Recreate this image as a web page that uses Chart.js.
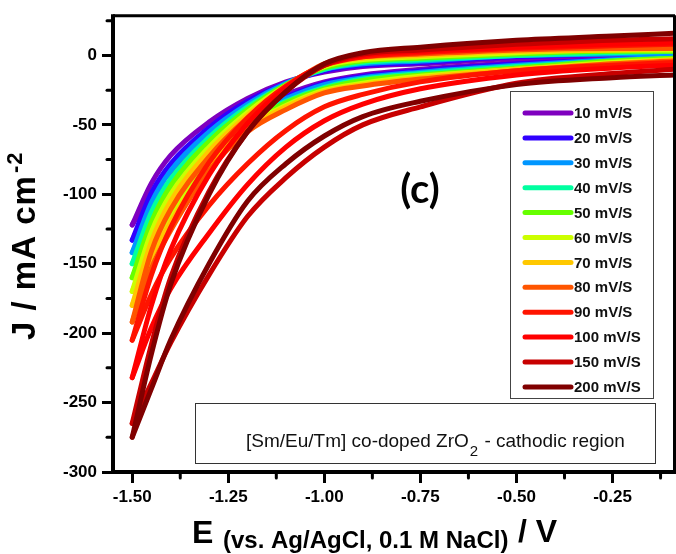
<!DOCTYPE html>
<html>
<head>
<meta charset="utf-8">
<script src="https://cdn.jsdelivr.net/npm/chart.js@4"></script>
<style>
  html, body { margin: 0; padding: 0; background: #fff; }
  #wrap { width: 676px; height: 554px; position: relative; }
</style>
</head>
<body>
<div id="wrap"><canvas id="cv"></canvas></div>
<script>
// potential grid (V), from the -1.5 V vertex to the start of the scan
const potentials = [-1.5, -1.45, -1.4, -1.3, -1.2, -1.1, -1.0, -0.9, -0.75, -0.5, -0.25, -0.09];

const rates = ["10 mV/S", "20 mV/S", "30 mV/S", "40 mV/S", "50 mV/S", "60 mV/S",
               "70 mV/S", "80 mV/S", "90 mV/S", "100 mV/S", "150 mV/S", "200 mV/S"];
const colors = ["#7f00bf", "#3000ff", "#0096ff", "#00ffa0", "#66ff00", "#ccff00",
                "#ffc800", "#ff5500", "#ff1400", "#ff0000", "#c80000", "#800000"];

// current density (mA cm-2) on the forward (cathodic) sweep, per potential above
const fwd10  = [-122, -100, -84, -58, -40, -28, -19, -14, -10, -5, -2, 0];
const fwd20  = [-133, -108, -90, -62, -42, -30, -20, -15, -11, -6, -3, -1];
const fwd30  = [-142, -115, -96, -65, -44, -31, -21, -16, -12, -7, -3, -1];
const fwd40  = [-150, -123, -102, -69, -47, -33, -23, -17, -13, -8, -4, -2];
const fwd50  = [-160, -130, -108, -72, -49, -34, -24, -18, -14, -9, -4, -2];
const fwd60  = [-170, -138, -114, -76, -51, -36, -25, -20, -15, -10, -5, -3];
const fwd70  = [-180, -145, -120, -79, -53, -37, -26, -21, -16, -10, -6, -3];
const fwd80  = [-192, -153, -126, -83, -55, -39, -27, -22, -17, -11, -6, -4];
const fwd90  = [-205, -172, -146, -108, -78, -54, -37, -28, -19, -11, -7, -5];
const fwd100 = [-232, -196, -168, -128, -93, -66, -47, -35, -24, -14, -9, -7];
const fwd150 = [-265, -236, -207, -158, -116, -88, -66, -50, -37, -20, -13, -10];
const fwd200 = [-275, -240, -205, -150, -105, -78, -58, -44, -33, -21, -16, -14];

// current density on the reverse sweep, same potentials
const rev10  = [-122, -92, -72, -48, -31, -19, -12, -8, -6, -2, 0, 1];
const rev20  = [-133, -99, -78, -52, -33, -20, -11, -7, -5, -1, 1, 2];
const rev30  = [-142, -106, -83, -55, -35, -20, -10, -6, -4, 0, 1, 2];
const rev40  = [-150, -113, -89, -59, -37, -21, -10, -5, -3, 0, 2, 3];
const rev50  = [-160, -120, -94, -62, -39, -21, -9, -4, -2, 1, 3, 3];
const rev60  = [-170, -127, -100, -66, -41, -22, -8, -3, -1, 2, 4, 4];
const rev70  = [-180, -134, -105, -69, -43, -22, -7, -2, 0, 3, 4, 5];
const rev80  = [-192, -141, -111, -73, -45, -23, -6, -1, 1, 4, 5, 5];
const rev90  = [-205, -158, -124, -77, -45, -22, -7, -1, 2, 5, 7, 8];
const rev100 = [-232, -180, -140, -86, -49, -23, -7, 0, 3, 6, 8, 9];
const rev150 = [-265, -208, -160, -98, -55, -26, -7, 1, 4, 8, 11, 12];
const rev200 = [-275, -215, -165, -100, -55, -26, -6, 2, 6, 11, 14, 16];

const xTicks = [-1.5, -1.25, -1.0, -0.75, -0.5, -0.25];
const yTicks = [-300, -250, -200, -150, -100, -50, 0];

const fwdAll = [fwd10, fwd20, fwd30, fwd40, fwd50, fwd60, fwd70, fwd80, fwd90, fwd100, fwd150, fwd200];
const revAll = [rev10, rev20, rev30, rev40, rev50, rev60, rev70, rev80, rev90, rev100, rev150, rev200];

const toPoints = vals => vals.map((y, k) => ({ x: potentials[k], y }));

const FONT = '"Liberation Sans", Arial, sans-serif';

const datasets = [];
rates.forEach((label, i) => {
  [fwdAll[i], revAll[i]].forEach(branch => {
    datasets.push({
      label,
      data: toPoints(branch),
      borderColor: colors[i],
      backgroundColor: colors[i],
      borderWidth: 5,
      pointRadius: 0,
      pointHoverRadius: 0,
      showLine: true,
      cubicInterpolationMode: "monotone",
      borderJoinStyle: "round",
      borderCapStyle: "round",
      order: rates.length - i
    });
  });
});

const decor = {
  id: "decor",
  afterDraw(chart) {
    const ctx = chart.ctx;
    const a = chart.chartArea;
    const xs = chart.scales.x, ys = chart.scales.y;
    ctx.save();

    // minor ticks
    ctx.strokeStyle = "#000";
    ctx.lineWidth = 3;
    ctx.lineCap = "round";
    xTicks.forEach(t => {
      const v = t + 0.125;
      if (v <= xs.max) {
        const px = xs.getPixelForValue(v);
        ctx.beginPath(); ctx.moveTo(px, a.bottom); ctx.lineTo(px, a.bottom + 6); ctx.stroke();
      }
    });
    yTicks.forEach(t => {
      const v = t + 25;
      if (v <= ys.max) {
        const py = ys.getPixelForValue(v);
        ctx.beginPath(); ctx.moveTo(a.left, py); ctx.lineTo(a.left - 6, py); ctx.stroke();
      }
    });

    // frame
    ctx.lineCap = "butt";
    ctx.lineWidth = 3;
    ctx.beginPath();
    ctx.moveTo(a.left, a.top + 0.5); ctx.lineTo(a.right + 1, a.top + 0.5);
    ctx.moveTo(a.right + 0.5, a.top); ctx.lineTo(a.right + 0.5, a.bottom);
    ctx.stroke();
    ctx.lineWidth = 4;
    ctx.beginPath();
    ctx.moveTo(a.left, a.top - 1); ctx.lineTo(a.left, a.bottom + 2);
    ctx.moveTo(a.left - 2, a.bottom); ctx.lineTo(a.right + 2, a.bottom);
    ctx.stroke();

    // legend
    ctx.lineWidth = 1;
    ctx.strokeStyle = "#444";
    ctx.strokeRect(510.5, 91.5, 143, 307);
    ctx.font = "bold 15px " + FONT;
    ctx.textBaseline = "middle";
    ctx.textAlign = "left";
    rates.forEach((r, i) => {
      const y = 113 + i * 24.9;
      ctx.strokeStyle = colors[i];
      ctx.lineWidth = 5;
      ctx.lineCap = "round";
      ctx.beginPath(); ctx.moveTo(525, y); ctx.lineTo(571, y); ctx.stroke();
      ctx.fillStyle = "#111";
      ctx.fillText(r, 574, y + 1);
    });

    // sample box
    ctx.lineWidth = 1;
    ctx.strokeStyle = "#333";
    ctx.strokeRect(195.5, 403.5, 460, 60);
    ctx.fillStyle = "#111";
    ctx.textBaseline = "alphabetic";
    ctx.font = "19px " + FONT;
    const s1 = "[Sm/Eu/Tm] co-doped ZrO";
    ctx.fillText(s1, 246, 447);
    const w1 = ctx.measureText(s1).width;
    ctx.font = "15px " + FONT;
    ctx.fillText("2", 246 + w1 + 1, 456);
    const w2 = ctx.measureText("2").width;
    ctx.font = "19px " + FONT;
    ctx.fillText(" - cathodic region", 246 + w1 + w2 + 2, 447);

    // (c)
    ctx.fillStyle = "#000";
    ctx.font = 'bold 40px Lato, "Open Sans", sans-serif';
    ctx.textAlign = "center";
    ctx.textBaseline = "middle";
    ctx.fillText("(c)", 420, 190);

    // x title
    ctx.textAlign = "left";
    ctx.textBaseline = "alphabetic";
    ctx.font = "bold 32px " + FONT;
    ctx.fillText("E", 192, 543);
    ctx.font = "bold 24px " + FONT;
    ctx.fillText("(vs. Ag/AgCl, 0.1 M NaCl)", 223, 548);
    ctx.font = "bold 32px " + FONT;
    ctx.fillText("/ V", 518, 542);

    // y title
    ctx.save();
    ctx.translate(35, 340);
    ctx.rotate(-Math.PI / 2);
    ctx.letterSpacing = "1px";
    ctx.font = "bold 33px " + FONT;
    const yt = "J / mA cm";
    ctx.fillText(yt, 0, 0);
    const wy = ctx.measureText(yt).width;
    ctx.font = "bold 22px " + FONT;
    ctx.fillText("-2", wy + 2, -13);
    ctx.restore();

    ctx.restore();
  }
};

new Chart(document.getElementById("cv"), {
  type: "scatter",
  data: { datasets },
  options: {
    responsive: true,
    maintainAspectRatio: false,
    animation: false,
    events: [],
    layout: { padding: { top: 14, right: 2, left: 0, bottom: 0 } },
    plugins: { legend: { display: false }, tooltip: { enabled: false }, title: { display: false } },
    scales: {
      x: {
        type: "linear",
        min: -1.55,
        max: -0.09,
        afterBuildTicks: s => { s.ticks = xTicks.map(v => ({ value: v })); },
        afterFit: s => { s.height = 82; },
        border: { display: false },
        grid: { display: true, drawOnChartArea: false, drawTicks: true, tickLength: 11, tickWidth: 3, tickColor: "#000" },
        ticks: {
          color: "#000",
          padding: 4,
          font: { family: FONT, size: 17, weight: "bold" },
          callback: v => v.toFixed(2),
          maxRotation: 0
        }
      },
      y: {
        type: "linear",
        min: -300,
        max: 29,
        afterBuildTicks: s => { s.ticks = yTicks.map(v => ({ value: v })); },
        afterFit: s => { s.width = 113; },
        border: { display: false },
        grid: { display: true, drawOnChartArea: false, drawTicks: true, tickLength: 11, tickWidth: 3, tickColor: "#000" },
        ticks: {
          color: "#000",
          padding: 5,
          font: { family: FONT, size: 17, weight: "bold" },
          callback: v => String(v)
        }
      }
    }
  },
  plugins: [decor]
});
</script>
</body>
</html>
